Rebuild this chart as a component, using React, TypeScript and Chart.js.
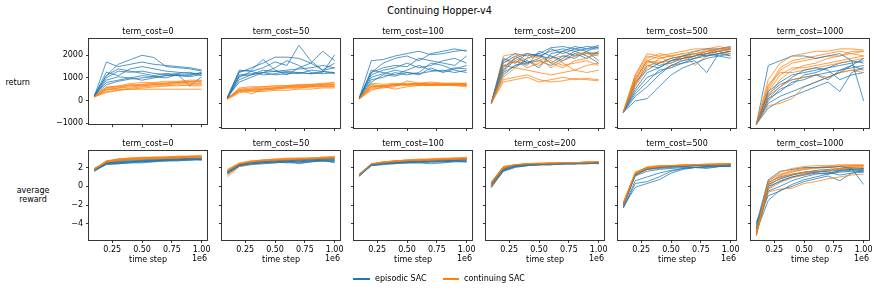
import React, { useEffect, useRef } from "react";
import { Chart, registerables } from "chart.js";
Chart.register(...registerables);

// ---------------- data ----------------
const timeSteps = [0.1, 0.2, 0.3, 0.4, 0.5, 0.6, 0.7, 0.8, 0.9, 1.0];
const termCosts = ["0", "50", "100", "200", "500", "1000"];
const xTickValues = [0.25, 0.5, 0.75, 1.0];
const returnTickValues = [-1000, 0, 1000, 2000];
const rewardTickValues = [-4, -2, 0, 2];
const seriesNames = ["episodic SAC", "continuing SAC"];

const returnEpisodic0 = [
  [200, 1700, 1500, 1600, 1700, 1600, 1550, 1500, 1450, 1350],
  [250, 1100, 1600, 1800, 2000, 1900, 1500, 1450, 1400, 1300],
  [180, 1000, 1300, 1250, 1300, 1200, 1150, 1100, 1050, 1150],
  [220, 1250, 1100, 1400, 1500, 1400, 1300, 1250, 1200, 1200],
  [200, 900, 1050, 1000, 900, 1000, 1100, 1200, 1250, 1100],
  [230, 800, 900, 1000, 1100, 1050, 1000, 1150, 650, 1050],
  [190, 1100, 1400, 1300, 1200, 1100, 1200, 1150, 1100, 1250],
  [210, 700, 850, 950, 1000, 1050, 1100, 1100, 1150, 1200],
];
const returnContinuing0 = [
  [150, 500, 500, 500, 500, 500, 500, 500, 500, 500],
  [180, 550, 600, 650, 700, 750, 750, 800, 800, 850],
  [170, 450, 550, 600, 650, 700, 700, 750, 750, 750],
  [200, 600, 650, 750, 800, 800, 850, 850, 900, 900],
  [160, 400, 450, 500, 550, 600, 650, 650, 700, 700],
  [190, 500, 550, 700, 650, 700, 750, 800, 850, 800],
  [175, 350, 450, 550, 600, 650, 650, 700, 650, 650],
  [185, 580, 620, 680, 720, 760, 780, 820, 840, 880],
];
const returnEpisodic50 = [
  [250, 1400, 1350, 1500, 1750, 1600, 2450, 1800, 1400, 1700],
  [220, 1300, 1500, 1700, 1950, 1950, 1900, 1700, 1400, 1500],
  [200, 1150, 1200, 1400, 1350, 1300, 1250, 1400, 1350, 1300],
  [260, 1350, 1400, 1850, 1400, 1200, 1500, 1700, 2200, 1800],
  [230, 1000, 1200, 1300, 1500, 1800, 1600, 1300, 1250, 1300],
  [240, 1100, 1350, 1200, 1250, 1350, 1300, 1250, 1300, 2050],
  [210, 1200, 1250, 1300, 1350, 1400, 1450, 1500, 1600, 1500],
  [250, 900, 1100, 1300, 1200, 1250, 1300, 1250, 1350, 1250],
];
const returnContinuing50 = [
  [200, 550, 600, 600, 650, 700, 700, 700, 750, 750],
  [180, 600, 650, 700, 700, 750, 800, 800, 850, 850],
  [220, 500, 550, 600, 600, 650, 650, 700, 700, 700],
  [190, 650, 700, 700, 750, 750, 750, 800, 800, 800],
  [170, 450, 500, 500, 550, 550, 600, 600, 650, 650],
  [200, 600, 400, 600, 650, 700, 750, 750, 800, 900],
  [210, 550, 600, 650, 650, 700, 700, 750, 750, 800],
  [185, 500, 550, 550, 600, 650, 650, 700, 700, 700],
];
const returnEpisodic100 = [
  [250, 1800, 1850, 2000, 2100, 2200, 2050, 2100, 2200, 2250],
  [200, 1300, 1700, 1900, 2000, 1800, 2100, 2200, 2300, 2200],
  [220, 1200, 1400, 1500, 1700, 1500, 1600, 1800, 1900, 1700],
  [240, 1100, 1250, 1400, 1300, 1200, 1500, 1300, 1450, 1600],
  [210, 1400, 1300, 1200, 1400, 1600, 1400, 1350, 1500, 1450],
  [230, 1000, 1100, 1300, 1200, 1300, 1700, 1600, 1400, 1300],
  [260, 1300, 1500, 1600, 1550, 1900, 1800, 1700, 1600, 2000],
  [200, 900, 1200, 1150, 1300, 1250, 1350, 1400, 1300, 1400],
];
const returnContinuing100 = [
  [200, 700, 750, 800, 850, 800, 800, 800, 850, 850],
  [220, 800, 700, 750, 800, 850, 800, 750, 800, 800],
  [180, 600, 650, 700, 950, 850, 800, 800, 750, 750],
  [210, 750, 700, 800, 750, 800, 850, 800, 800, 850],
  [190, 650, 700, 600, 700, 750, 750, 800, 750, 700],
  [230, 700, 750, 800, 800, 750, 800, 850, 850, 800],
  [200, 550, 700, 750, 800, 800, 750, 750, 800, 750],
  [215, 850, 800, 850, 800, 850, 900, 850, 800, 800],
];
const returnEpisodic200 = [
  [20, 1800, 2100, 2000, 2100, 2350, 2400, 2300, 2400, 2350],
  [0, 1500, 1900, 2100, 2000, 1900, 2200, 2400, 2300, 2300],
  [30, 1700, 2000, 1700, 1900, 2300, 2100, 2300, 2200, 2400],
  [10, 1200, 1600, 1800, 1500, 2100, 2200, 2000, 2100, 2100],
  [0, 1600, 1500, 1900, 2100, 1700, 2000, 1900, 2200, 1800],
  [20, 1400, 1800, 1600, 2200, 2000, 1800, 2100, 1900, 2200],
  [10, 1900, 1700, 2100, 2000, 2200, 2300, 2200, 2300, 2450],
  [30, 1300, 1600, 1700, 1800, 1600, 1900, 2200, 2000, 1700],
];
const returnContinuing200 = [
  [0, 1300, 2000, 2100, 1900, 1500, 1800, 2000, 2100, 2000],
  [20, 1100, 1500, 1400, 1300, 1200, 1300, 1400, 1300, 1400],
  [10, 1600, 1800, 1500, 1700, 1800, 1600, 1700, 1800, 1600],
  [0, 900, 1000, 1100, 900, 1000, 1100, 1000, 1050, 1000],
  [30, 1800, 1700, 1900, 2000, 1700, 1500, 1800, 1900, 2100],
  [20, 1000, 1100, 1200, 1000, 900, 950, 1050, 1000, 950],
  [10, 1400, 1900, 1700, 1800, 2000, 1700, 1400, 1600, 1700],
  [0, 2000, 2100, 1800, 1600, 1900, 2000, 2100, 2150, 2150],
];
const returnEpisodic500 = [
  [-350, 600, 1300, 1500, 1800, 1900, 2000, 2100, 2200, 2300],
  [-380, 300, 700, 1200, 1600, 1800, 1900, 2000, 2100, 2200],
  [-360, 100, 200, 700, 1200, 1500, 1700, 1900, 2000, 2100],
  [-370, 900, 1400, 1700, 1900, 2000, 2100, 2000, 2100, 2200],
  [-350, 500, 1100, 1300, 1600, 1700, 1800, 1300, 2100, 2000],
  [-390, 800, 1600, 1500, 1800, 2000, 2200, 2300, 2300, 2400],
  [-360, 400, 900, 1400, 1500, 1700, 1900, 2100, 2000, 1900],
  [-380, 1000, 1800, 1600, 1700, 1900, 2000, 2200, 2300, 2350],
];
const returnContinuing500 = [
  [-370, 1000, 1800, 2000, 2100, 2200, 2300, 2300, 2200, 2300],
  [-350, 1200, 2000, 1900, 2000, 2100, 2200, 2100, 2300, 2200],
  [-380, 900, 1700, 1800, 1500, 1900, 2100, 2200, 2200, 2100],
  [-360, 1100, 1900, 2100, 2000, 1800, 2000, 2200, 2300, 2400],
  [-340, 800, 1600, 1700, 1900, 2000, 2100, 2000, 2200, 2300],
  [-370, 1200, 2100, 2000, 1700, 2000, 1900, 2100, 2200, 2000],
  [-390, 700, 1500, 1900, 2000, 2100, 1600, 2000, 2100, 2200],
  [-360, 1000, 1800, 1700, 1800, 1900, 2000, 2300, 2400, 2300],
];
const returnEpisodic1000 = [
  [-880, 1600, 1800, 2000, 2000, 1900, 2000, 2100, 1800, 100],
  [-870, 500, 900, 1200, 1300, 1400, 1500, 1600, 1700, 1800],
  [-890, 200, 500, 900, 1000, 1200, 1300, 1400, 1600, 1900],
  [-860, 0, 300, 500, 700, 900, 1100, 1300, 1600, 1400],
  [-880, -200, 100, 300, 500, 700, 900, 500, 1300, 1500],
  [-870, 300, 700, 1100, 1400, 1500, 1400, 1000, 1200, 1300],
  [-890, 400, 800, 1000, 1100, 1200, 1000, 1400, 1500, 1600],
  [-880, 100, 600, 800, 1200, 1300, 1500, 1700, 1800, 1700],
];
const returnContinuing1000 = [
  [-880, 1000, 1700, 2000, 2100, 2200, 2200, 2300, 2300, 2250],
  [-870, 700, 1500, 1800, 1900, 2000, 2100, 2200, 2100, 2200],
  [-890, 300, 1000, 1400, 1600, 1700, 1900, 2000, 2100, 2000],
  [-860, 500, 1200, 1500, 1500, 1600, 1700, 1800, 1900, 2000],
  [-880, -100, 0, 200, 700, 900, 1100, 1300, 1400, 1500],
  [-870, 200, 700, 1000, 1100, 1200, 1100, 1300, 1400, 1300],
  [-890, 600, 1400, 1700, 1800, 1900, 2000, 2000, 2200, 2200],
  [-880, 800, 1300, 1300, 1400, 1500, 1600, 1700, 1800, 1900],
];

const rewardEpisodic0 = [
  [1.7, 2.4, 2.5, 2.6, 2.7, 2.7, 2.8, 2.8, 2.9, 2.9],
  [1.6, 2.4, 2.4, 2.5, 2.5, 2.6, 2.7, 2.7, 2.8, 2.8],
  [1.8, 2.5, 2.6, 2.7, 2.8, 2.8, 2.9, 2.9, 3.0, 3.0],
  [1.7, 2.3, 2.4, 2.5, 2.6, 2.7, 2.7, 2.8, 2.8, 2.9],
  [1.9, 2.5, 2.7, 2.8, 2.8, 2.9, 2.9, 3.0, 3.0, 3.0],
  [1.6, 2.4, 2.5, 2.6, 2.6, 2.7, 2.8, 2.8, 2.9, 2.8],
  [1.7, 2.5, 2.5, 2.6, 2.7, 2.8, 2.8, 2.9, 2.9, 2.9],
  [1.8, 2.4, 2.6, 2.6, 2.7, 2.7, 2.8, 2.8, 2.8, 2.9],
];
const rewardContinuing0 = [
  [1.8, 2.7, 2.9, 3.0, 3.0, 3.1, 3.1, 3.1, 3.2, 3.2],
  [1.9, 2.6, 2.8, 2.9, 3.0, 3.0, 3.0, 3.1, 3.1, 3.1],
  [1.7, 2.6, 2.8, 2.9, 2.9, 3.0, 3.0, 3.0, 3.1, 3.1],
  [1.8, 2.7, 2.9, 3.0, 3.1, 3.1, 3.1, 3.2, 3.2, 3.3],
  [1.9, 2.5, 2.7, 2.8, 2.9, 2.9, 3.0, 3.0, 3.0, 3.0],
  [1.7, 2.6, 2.8, 2.9, 3.0, 3.0, 3.1, 3.1, 3.1, 3.2],
  [1.8, 2.7, 2.8, 2.9, 3.0, 3.1, 3.1, 3.2, 3.2, 3.2],
  [1.9, 2.6, 2.9, 3.0, 3.0, 3.0, 3.1, 3.1, 3.2, 3.1],
];
const rewardEpisodic50 = [
  [1.5, 2.3, 2.5, 2.6, 2.7, 2.7, 2.8, 2.8, 2.9, 2.9],
  [1.4, 2.2, 2.4, 2.5, 2.5, 2.6, 2.6, 2.7, 2.7, 2.6],
  [1.6, 2.3, 2.5, 2.6, 2.6, 2.5, 2.5, 2.6, 2.7, 2.7],
  [1.5, 2.2, 2.4, 2.5, 2.6, 2.7, 2.7, 2.8, 2.8, 2.8],
  [1.3, 2.1, 2.3, 2.4, 2.5, 2.6, 2.6, 2.7, 2.7, 2.7],
  [1.7, 2.4, 2.5, 2.6, 2.7, 2.8, 2.8, 2.9, 2.9, 3.0],
  [1.4, 2.3, 2.4, 2.5, 2.6, 2.6, 2.7, 2.7, 2.8, 2.8],
  [1.5, 2.2, 2.5, 2.6, 2.6, 2.7, 2.4, 2.6, 2.8, 2.5],
];
const rewardContinuing50 = [
  [1.6, 2.4, 2.6, 2.8, 2.8, 2.9, 2.9, 3.0, 3.0, 3.1],
  [1.7, 2.4, 2.7, 2.8, 2.9, 2.9, 3.0, 3.0, 3.1, 3.1],
  [1.0, 2.1, 2.4, 2.6, 2.7, 2.8, 2.8, 2.9, 2.9, 3.0],
  [1.5, 2.3, 2.6, 2.7, 2.8, 2.9, 2.9, 2.9, 3.0, 3.0],
  [1.8, 2.5, 2.7, 2.8, 2.9, 3.0, 3.0, 3.0, 3.1, 3.2],
  [1.4, 2.3, 2.5, 2.7, 2.8, 2.8, 2.9, 2.9, 3.0, 3.0],
  [1.6, 2.4, 2.6, 2.7, 2.8, 2.9, 2.9, 3.0, 3.0, 3.1],
  [1.2, 2.2, 2.5, 2.6, 2.7, 2.8, 2.8, 2.9, 2.9, 2.9],
];
const rewardEpisodic100 = [
  [1.2, 2.3, 2.4, 2.5, 2.6, 2.6, 2.6, 2.7, 2.7, 2.7],
  [1.1, 2.2, 2.4, 2.5, 2.5, 2.5, 2.6, 2.6, 2.7, 2.6],
  [1.3, 2.3, 2.5, 2.6, 2.6, 2.7, 2.7, 2.8, 2.8, 2.8],
  [1.2, 2.2, 2.3, 2.4, 2.5, 2.5, 2.4, 2.5, 2.6, 2.6],
  [1.1, 2.3, 2.4, 2.5, 2.6, 2.7, 2.7, 2.7, 2.8, 2.9],
  [1.3, 2.4, 2.5, 2.6, 2.7, 2.7, 2.8, 2.8, 2.8, 2.9],
  [1.2, 2.2, 2.4, 2.5, 2.5, 2.6, 2.6, 2.6, 2.7, 2.7],
  [1.1, 2.3, 2.5, 2.5, 2.6, 2.6, 2.7, 2.7, 2.7, 2.8],
];
const rewardContinuing100 = [
  [1.2, 2.4, 2.6, 2.7, 2.8, 2.8, 2.9, 2.9, 2.9, 3.0],
  [1.3, 2.3, 2.5, 2.7, 2.7, 2.8, 2.8, 2.9, 3.0, 3.0],
  [1.1, 2.3, 2.5, 2.6, 2.7, 2.8, 2.8, 2.8, 2.9, 2.9],
  [1.2, 2.4, 2.6, 2.7, 2.8, 2.9, 2.9, 3.0, 3.0, 3.1],
  [1.3, 2.2, 2.5, 2.6, 2.7, 2.7, 2.8, 2.8, 2.9, 2.9],
  [1.2, 2.3, 2.6, 2.7, 2.8, 2.8, 2.8, 2.9, 2.9, 3.0],
  [1.1, 2.4, 2.5, 2.6, 2.7, 2.8, 2.9, 2.9, 3.0, 3.0],
  [1.2, 2.3, 2.5, 2.7, 2.7, 2.8, 2.8, 2.9, 2.9, 2.9],
];
const rewardEpisodic200 = [
  [0.2, 1.8, 2.2, 2.3, 2.3, 2.4, 2.4, 2.4, 2.5, 2.5],
  [0.0, 1.6, 2.1, 2.2, 2.3, 2.3, 2.4, 2.4, 2.4, 2.5],
  [0.4, 1.9, 2.2, 2.3, 2.4, 2.4, 2.4, 2.5, 2.5, 2.5],
  [0.1, 1.7, 2.1, 2.3, 2.3, 2.3, 2.4, 2.4, 2.5, 2.4],
  [0.3, 1.8, 2.2, 2.3, 2.4, 2.4, 2.5, 2.5, 2.5, 2.6],
  [-0.1, 1.6, 2.0, 2.2, 2.3, 2.3, 2.4, 2.4, 2.4, 2.5],
  [0.2, 1.9, 2.3, 2.3, 2.4, 2.4, 2.4, 2.5, 2.5, 2.5],
  [0.0, 1.7, 2.1, 2.2, 2.3, 2.4, 2.4, 2.4, 2.5, 2.5],
];
const rewardContinuing200 = [
  [0.3, 2.0, 2.3, 2.4, 2.4, 2.4, 2.5, 2.5, 2.5, 2.6],
  [0.5, 2.1, 2.3, 2.4, 2.4, 2.5, 2.5, 2.5, 2.6, 2.6],
  [0.1, 1.9, 2.2, 2.3, 2.4, 2.4, 2.4, 2.5, 2.5, 2.5],
  [0.4, 2.1, 2.3, 2.4, 2.5, 2.5, 2.5, 2.5, 2.6, 2.6],
  [-0.2, 1.8, 2.2, 2.3, 2.3, 2.4, 2.4, 2.5, 2.5, 2.5],
  [0.2, 2.0, 2.3, 2.3, 2.4, 2.4, 2.5, 2.5, 2.5, 2.6],
  [0.3, 2.1, 2.2, 2.4, 2.4, 2.5, 2.5, 2.5, 2.5, 2.5],
  [0.0, 1.9, 2.3, 2.4, 2.4, 2.4, 2.5, 2.5, 2.6, 2.6],
];
const rewardEpisodic500 = [
  [-2.0, 1.2, 1.8, 2.0, 2.1, 2.1, 2.2, 2.2, 2.2, 2.3],
  [-2.3, 0.3, 0.5, 1.0, 1.6, 1.9, 2.0, 2.1, 2.1, 2.2],
  [-2.2, -0.1, 0.3, 0.7, 1.4, 1.8, 2.0, 2.0, 2.1, 2.1],
  [-1.9, 1.3, 1.9, 2.0, 2.1, 2.1, 2.2, 2.2, 2.2, 2.3],
  [-2.1, 1.1, 1.6, 1.8, 1.9, 2.0, 2.0, 1.9, 2.1, 2.2],
  [-2.0, 1.3, 1.9, 2.0, 2.1, 2.2, 2.2, 2.2, 2.3, 2.3],
  [-2.3, 0.6, 1.0, 1.4, 1.7, 1.9, 2.0, 2.1, 2.2, 2.1],
  [-1.8, 1.2, 1.8, 1.9, 2.0, 2.1, 2.2, 2.2, 2.3, 2.3],
];
const rewardContinuing500 = [
  [-1.9, 1.4, 2.0, 2.1, 2.2, 2.2, 2.3, 2.3, 2.3, 2.4],
  [-1.7, 1.5, 2.0, 2.2, 2.2, 2.3, 2.3, 2.3, 2.4, 2.4],
  [-2.1, 1.3, 1.9, 2.0, 2.1, 2.2, 2.2, 2.3, 2.3, 2.3],
  [-1.8, 1.4, 2.1, 2.2, 2.2, 2.2, 2.3, 2.3, 2.4, 2.4],
  [-2.0, 1.2, 1.9, 2.1, 2.2, 2.2, 2.2, 2.3, 2.3, 2.3],
  [-1.9, 1.5, 2.0, 2.1, 2.1, 2.2, 2.3, 2.3, 2.3, 2.4],
  [-2.2, 1.3, 1.8, 2.0, 2.1, 2.2, 2.2, 2.2, 2.3, 2.3],
  [-1.7, 1.4, 2.0, 2.1, 2.2, 2.3, 2.3, 2.4, 2.4, 2.4],
];
const rewardEpisodic1000 = [
  [-4.0, 0.7, 1.6, 1.8, 2.0, 2.0, 2.0, 2.1, 1.9, 0.2],
  [-4.5, 0.0, 0.5, 1.0, 1.3, 1.5, 1.6, 1.7, 1.8, 1.9],
  [-5.0, -0.5, 0.0, 0.6, 1.0, 1.3, 1.4, 1.6, 1.7, 1.8],
  [-3.8, -1.0, -0.5, 0.2, 0.7, 1.0, 1.3, 1.5, 1.6, 1.6],
  [-4.8, -1.5, -0.4, 0.0, 0.5, 0.8, 1.1, 0.6, 1.4, 1.5],
  [-4.2, 0.2, 0.8, 1.2, 1.5, 1.6, 1.5, 1.2, 1.4, 1.7],
  [-5.2, -0.2, 0.6, 1.0, 1.2, 1.4, 1.3, 1.7, 1.8, 1.6],
  [-4.4, 0.4, 1.0, 1.3, 1.5, 1.7, 1.8, 1.9, 2.0, 1.9],
];
const rewardContinuing1000 = [
  [-5.3, 0.5, 1.5, 1.9, 2.1, 2.2, 2.2, 2.3, 2.3, 2.3],
  [-4.9, 0.3, 1.2, 1.7, 1.9, 2.0, 2.1, 2.2, 2.2, 2.2],
  [-5.0, -0.3, 0.4, 0.9, 1.2, 1.5, 1.7, 1.9, 2.0, 2.1],
  [-4.6, 0.6, 1.3, 1.6, 1.8, 1.9, 2.0, 2.1, 2.1, 2.2],
  [-5.1, -0.6, -0.3, -0.2, 0.3, 0.5, 0.8, 1.0, 1.2, 1.3],
  [-4.7, 0.0, 0.9, 1.3, 1.5, 1.6, 1.7, 1.8, 1.9, 2.0],
  [-5.2, 0.4, 1.1, 1.5, 1.8, 2.0, 2.1, 2.1, 2.2, 2.2],
  [-4.9, 0.2, 0.8, 1.2, 1.4, 1.5, 1.7, 1.8, 1.9, 1.8],
];

const returnEpisodic = [returnEpisodic0, returnEpisodic50, returnEpisodic100, returnEpisodic200, returnEpisodic500, returnEpisodic1000];
const returnContinuing = [returnContinuing0, returnContinuing50, returnContinuing100, returnContinuing200, returnContinuing500, returnContinuing1000];
const rewardEpisodic = [rewardEpisodic0, rewardEpisodic50, rewardEpisodic100, rewardEpisodic200, rewardEpisodic500, rewardEpisodic1000];
const rewardContinuing = [rewardContinuing0, rewardContinuing50, rewardContinuing100, rewardContinuing200, rewardContinuing500, rewardContinuing1000];

// ---------------- layout & style ----------------
const FONT = "'DejaVu Sans', sans-serif";
const BLUE = "rgba(31,119,180,0.85)";
const ORANGE = "rgba(255,127,14,0.85)";
const PLOT_W = 118;
const PLOT_H = 89;
const PAD_L = 36;
const PAD_R = 16;
const TITLE_BLOCK = 16;
const PANEL_LEFTS = [89, 222, 354, 486, 618, 751];
const ROW_TOPS = [39, 151];
const X_RANGE = [0.055, 1.045];
const Y_RANGES = [
  [-1042, 2717],
  [-5.72, 3.76],
];

const fmtY = (v: number) => (v < 0 ? "\u2212" + Math.abs(v) : String(v));

const boxPlugin = {
  id: "boxSpines",
  afterDraw(chart: any) {
    const { ctx, chartArea: a } = chart;
    ctx.save();
    ctx.strokeStyle = "#222";
    ctx.lineWidth = 0.9;
    const l = Math.round(a.left) - 0.5;
    const t = Math.round(a.top) - 0.5;
    const r = Math.round(a.right) + 0.5;
    const b = Math.round(a.bottom) + 0.5;
    ctx.strokeRect(l, t, r - l, b - t);
    ctx.restore();
  },
};

function Panel({ row, col }: { row: number; col: number }) {
  const ref = useRef<HTMLCanvasElement>(null);
  const axisH = row === 1 ? 25 : 4;
  const left = PANEL_LEFTS[col] - PAD_L;
  const top = ROW_TOPS[row] - TITLE_BLOCK;
  const width = PAD_L + PLOT_W + PAD_R;
  const height = TITLE_BLOCK + PLOT_H + axisH;

  useEffect(() => {
    const episodic = row === 0 ? returnEpisodic[col] : rewardEpisodic[col];
    const continuing = row === 0 ? returnContinuing[col] : rewardContinuing[col];
    const yTicks = row === 0 ? returnTickValues : rewardTickValues;
    const datasets: any[] = [];
    const n = Math.max(episodic.length, continuing.length);
    const mk = (run: number[], color: string, label: string) => ({
      label,
      data: timeSteps.map((t, k) => ({ x: t, y: run[k] })),
      borderColor: color,
      borderWidth: 0.9,
      pointRadius: 0,
      tension: 0,
      fill: false,
    });
    for (let i = 0; i < n; i++) {
      if (continuing[i]) datasets.push(mk(continuing[i], ORANGE, seriesNames[1]));
      if (episodic[i]) datasets.push(mk(episodic[i], BLUE, seriesNames[0]));
    }
    const tickFont = { family: FONT, size: 8 };
    const gridOpts = {
      display: true,
      drawOnChartArea: false,
      drawTicks: true,
      tickLength: 3,
      color: "#222",
      lineWidth: 0.9,
    };
    const chart = new Chart(ref.current as HTMLCanvasElement, {
      type: "line",
      data: { datasets },
      plugins: [boxPlugin],
      options: {
        animation: false,
        responsive: true,
        maintainAspectRatio: false,
        devicePixelRatio: 1,
        events: [],
        layout: { padding: { left: 0, right: PAD_R, top: 0, bottom: 0 } },
        plugins: {
          legend: { display: false },
          tooltip: { enabled: false },
          title: {
            display: true,
            fullSize: false,
            align: "center",
            text: "term_cost=" + termCosts[col],
            color: "#000",
            font: { family: FONT, size: 8, weight: "normal", lineHeight: 1.2 },
            padding: { top: 4.4, bottom: 2 },
          },
        },
        scales: {
          x: {
            type: "linear",
            min: X_RANGE[0],
            max: X_RANGE[1],
            afterBuildTicks: (s: any) => {
              s.ticks = xTickValues.map((v) => ({ value: v }));
            },
            afterFit: (s: any) => {
              s.height = axisH;
            },
            ticks: {
              display: row === 1,
              callback: (v: any) => Number(v).toFixed(2),
              font: tickFont,
              color: "#000",
              padding: 2,
              maxRotation: 0,
              autoSkip: false,
            },
            grid: gridOpts,
            border: { display: false },
            title: {
              display: row === 1,
              text: "time step",
              color: "#000",
              font: { family: FONT, size: 8, lineHeight: 1.2 },
              padding: 0,
            },
          },
          y: {
            type: "linear",
            min: Y_RANGES[row][0],
            max: Y_RANGES[row][1],
            afterBuildTicks: (s: any) => {
              s.ticks = yTicks.map((v) => ({ value: v }));
            },
            afterFit: (s: any) => {
              s.width = PAD_L;
            },
            ticks: {
              display: col === 0,
              callback: (v: any) => fmtY(Number(v)),
              font: tickFont,
              color: "#000",
              padding: 3,
              autoSkip: false,
            },
            grid: gridOpts,
            border: { display: false },
          },
        },
      } as any,
    });
    return () => chart.destroy();
  }, [row, col]);

  return (
    <div style={{ position: "absolute", left, top, width, height }}>
      <canvas ref={ref} />
    </div>
  );
}

const textStyle: React.CSSProperties = {
  position: "absolute",
  fontFamily: FONT,
  fontSize: 8,
  lineHeight: "9.6px",
  color: "#000",
  whiteSpace: "nowrap",
};

export default function App() {
  const cols = [0, 1, 2, 3, 4, 5];
  return (
    <div
      style={{
        position: "absolute",
        left: 0,
        top: 0,
        width: 877,
        height: 292,
        background: "#fff",
        overflow: "hidden",
      }}
    >
      <div style={{ ...textStyle, fontSize: 9.6, lineHeight: "12px", left: 439.5, top: 10.5, transform: "translate(-50%,-50%)" }}>
        Continuing Hopper-v4
      </div>
      <div style={{ ...textStyle, left: 17.7, top: 82.7, transform: "translate(-50%,-50%)" }}>return</div>
      <div style={{ ...textStyle, left: 33, top: 195.5, transform: "translate(-50%,-50%)", textAlign: "center" }}>
        average
        <br />
        reward
      </div>
      {cols.map((c) => (
        <Panel key={"r" + c} row={0} col={c} />
      ))}
      {cols.map((c) => (
        <Panel key={"b" + c} row={1} col={c} />
      ))}
      {cols.map((c) => (
        <div
          key={"e" + c}
          style={{ ...textStyle, left: PANEL_LEFTS[c] + PLOT_W, top: 259, transform: "translate(-100%,-50%)" }}
        >
          1e6
        </div>
      ))}
      <div style={{ position: "absolute", left: 353, top: 278.4, width: 17, height: 1.2, background: "#1f77b4" }} />
      <div style={{ ...textStyle, left: 375, top: 279, transform: "translate(0,-50%)" }}>{seriesNames[0]}</div>
      <div style={{ position: "absolute", left: 443, top: 278.4, width: 16, height: 1.2, background: "#ff7f0e" }} />
      <div style={{ ...textStyle, left: 464, top: 279, transform: "translate(0,-50%)" }}>{seriesNames[1]}</div>
    </div>
  );
}
